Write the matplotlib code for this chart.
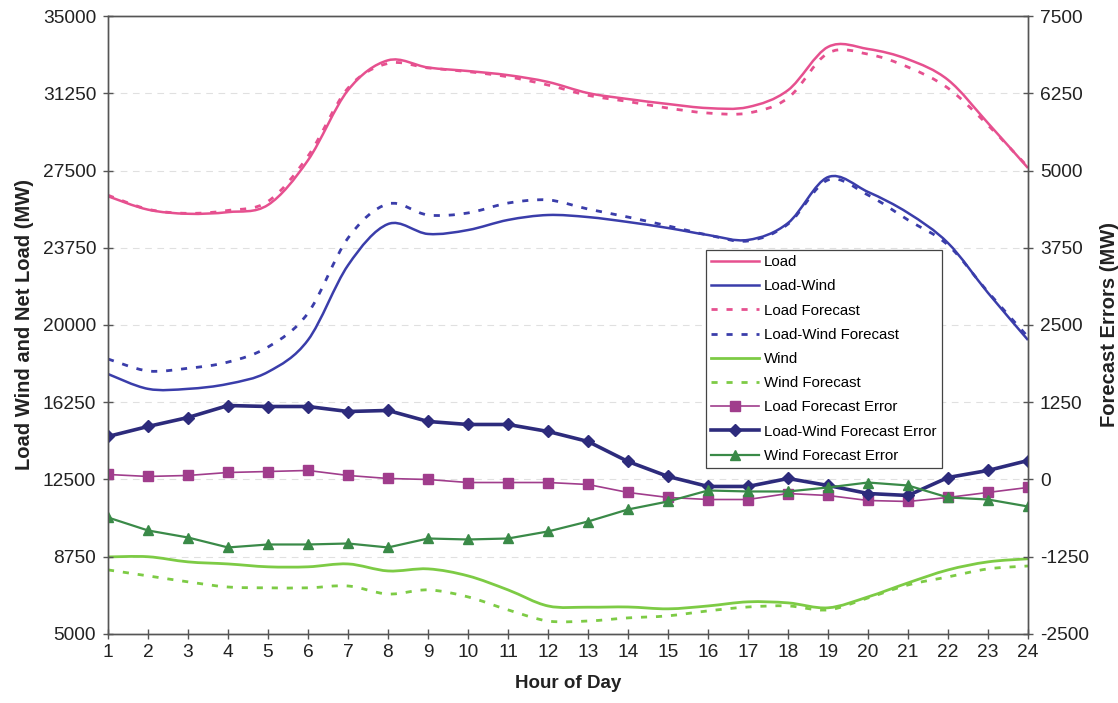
import matplotlib
matplotlib.use("Agg")
import matplotlib.pyplot as plt
from matplotlib.path import Path
from matplotlib.patches import PathPatch
from matplotlib.lines import Line2D
import numpy as np

plt.rcParams['font.family'] = ['Liberation Sans', 'DejaVu Sans']
plt.rcParams['axes.unicode_minus'] = False

hours = list(range(1, 25))

load = [26250, 25600, 25400, 25480, 25830, 28000, 31400, 32850, 32500, 32330,
        32130, 31800, 31260, 30970, 30730, 30530, 30580, 31400, 33500, 33400,
        32900, 31900, 29800, 27620]
load_fc = [26300, 25620, 25420, 25560, 26000, 28200, 31500, 32700, 32480, 32300,
           32050, 31650, 31150, 30850, 30530, 30290, 30290, 31020, 33200, 33150,
           32520, 31500, 29700, 27670]
net_load = [17620, 16900, 16900, 17140, 17720, 19270, 22900, 24900, 24420, 24610,
            25100, 25340, 25240, 25000, 24710, 24370, 24130, 24950, 27180, 26460,
            25440, 23980, 21560, 19270]
net_load_fc = [18350, 17770, 17900, 18200, 18930, 20580, 24220, 25880, 25340, 25440,
               25920, 26070, 25630, 25240, 24810, 24370, 24080, 24900, 27040, 26310,
               25100, 23880, 21600, 19420]
wind = [8740, 8750, 8500, 8400, 8260, 8260, 8400, 8060, 8160, 7820,
        7140, 6360, 6300, 6310, 6220, 6360, 6560, 6510, 6270, 6800,
        7480, 8110, 8500, 8650]
wind_fc = [8110, 7820, 7530, 7280, 7240, 7240, 7330, 6940, 7140, 6800,
           6170, 5630, 5630, 5780, 5880, 6120, 6310, 6360, 6170, 6750,
           7380, 7770, 8160, 8300]

load_err = [81, 49, 65, 113, 129, 146, 65, 16, 0, -49,
            -49, -49, -81, -210, -291, -324, -324, -227, -259, -340,
            -356, -291, -210, -129]
net_load_err = [696, 858, 1003, 1197, 1181, 1181, 1100, 1117, 939, 890,
                890, 777, 615, 291, 49, -113, -113, 16, -97, -227,
                -259, 32, 146, 307]
wind_err = [-615, -825, -939, -1100, -1052, -1052, -1036, -1100, -955, -971,
            -955, -841, -680, -485, -356, -178, -194, -194, -129, -49,
            -97, -291, -324, -437]

left_ticks = [5000, 8750, 12500, 16250, 20000, 23750, 27500, 31250, 35000]
right_ticks = [-2500, -1250, 0, 1250, 2500, 3750, 5000, 6250, 7500]

C_LOAD = '#E6508F'
C_NET = '#3A3DAA'
C_WIND = '#7DCB45'
C_LERR = '#A03D8C'
C_NERR = '#2D2B7C'
C_WERR = '#3A8A48'


def smooth_path(x, y):
    """Cubic Bezier path through the points (Excel-style smoothed line)."""
    pts = np.column_stack([x, y]).astype(float)
    n = len(pts)
    verts = [pts[0]]
    codes = [Path.MOVETO]
    for i in range(n - 1):
        p0 = pts[i - 1] if i > 0 else pts[i]
        p1 = pts[i]
        p2 = pts[i + 1]
        p3 = pts[i + 2] if i + 2 < n else pts[i + 1]
        c1 = p1 + (p2 - p0) / 6.0
        c2 = p2 - (p3 - p1) / 6.0
        verts += [c1, c2, p2]
        codes += [Path.CURVE4] * 3
    return Path(verts, codes)


def smooth_line(ax, x, y, color, lw, ls):
    patch = PathPatch(smooth_path(x, y), facecolor='none', edgecolor=color,
                      lw=lw, linestyle=ls, capstyle='butt', joinstyle='round')
    ax.add_patch(patch)


fig = plt.figure(figsize=(11.18, 7.03), dpi=100)
ax = fig.add_axes([0.0966, 0.0982, 0.8229, 0.879])
ax2 = ax.twinx()

dash = (0, (2.2, 3.2))
smooth_line(ax, hours, load, C_LOAD, 1.8, '-')
smooth_line(ax, hours, net_load, C_NET, 1.8, '-')
smooth_line(ax, hours, load_fc, C_LOAD, 2.0, dash)
smooth_line(ax, hours, net_load_fc, C_NET, 2.0, dash)
smooth_line(ax, hours, wind, C_WIND, 2.0, '-')
smooth_line(ax, hours, wind_fc, C_WIND, 2.0, dash)

ax2.plot(hours, load_err, color=C_LERR, lw=1.2, marker='s', ms=6.5,
         markerfacecolor=C_LERR, markeredgecolor=C_LERR)
ax2.plot(hours, net_load_err, color=C_NERR, lw=2.6, marker='D', ms=6.5,
         markerfacecolor=C_NERR, markeredgecolor=C_NERR)
ax2.plot(hours, wind_err, color=C_WERR, lw=1.6, marker='^', ms=7,
         markerfacecolor=C_WERR, markeredgecolor=C_WERR)

ax.set_xlim(1, 24)
ax.set_ylim(5000, 35000)
ax2.set_ylim(-2500, 7500)
ax.set_xticks(hours)
ax.set_yticks(left_ticks)
ax2.set_yticks(right_ticks)

for v in left_ticks[1:-1]:
    ax.axhline(v, color='#E0E0E0', lw=0.8, ls=(0, (6, 5)), zorder=0)

for a in (ax, ax2):
    for s in a.spines.values():
        s.set_color('#555555')
        s.set_linewidth(1.0)
    a.tick_params(axis='both', labelsize=13.8, colors='#222222', direction='inout',
                  length=7, width=1.0, color='#555555')
ax.tick_params(axis='y', pad=5)
ax2.tick_params(axis='y', pad=5)
ax.tick_params(axis='x', pad=4)

ax.set_xlabel('Hour of Day', fontsize=13.5, fontweight='bold', color='#222222', labelpad=10)
ax.set_ylabel('Load Wind and Net Load (MW)', fontsize=14.5, fontweight='bold',
              color='#222222', labelpad=6)
ax2.set_ylabel('Forecast Errors (MW)', fontsize=14.5, fontweight='bold',
               color='#222222', labelpad=8)

handles = [
    Line2D([], [], color=C_LOAD, lw=1.8),
    Line2D([], [], color=C_NET, lw=1.8),
    Line2D([], [], color=C_LOAD, lw=2.0, ls=dash),
    Line2D([], [], color=C_NET, lw=2.0, ls=dash),
    Line2D([], [], color=C_WIND, lw=2.0),
    Line2D([], [], color=C_WIND, lw=2.0, ls=dash),
    Line2D([], [], color=C_LERR, lw=1.2, marker='s', ms=6.5),
    Line2D([], [], color=C_NERR, lw=2.6, marker='D', ms=6.5),
    Line2D([], [], color=C_WERR, lw=1.6, marker='^', ms=7),
]
labels = ['Load', 'Load-Wind', 'Load Forecast', 'Load-Wind Forecast', 'Wind',
          'Wind Forecast', 'Load Forecast Error', 'Load-Wind Forecast Error',
          'Wind Forecast Error']
leg = ax2.legend(handles, labels, loc='upper left',
                 bbox_to_anchor=(706 / 1118, 1 - 250 / 703),
                 bbox_transform=fig.transFigure, fontsize=10.8, frameon=True,
                 fancybox=False, edgecolor='#444444', framealpha=1,
                 handlelength=3.2, handletextpad=0.3, labelspacing=0.68,
                 borderpad=0.35, borderaxespad=0)
leg.get_frame().set_linewidth(0.9)

fig.savefig('out.png', dpi=100)
